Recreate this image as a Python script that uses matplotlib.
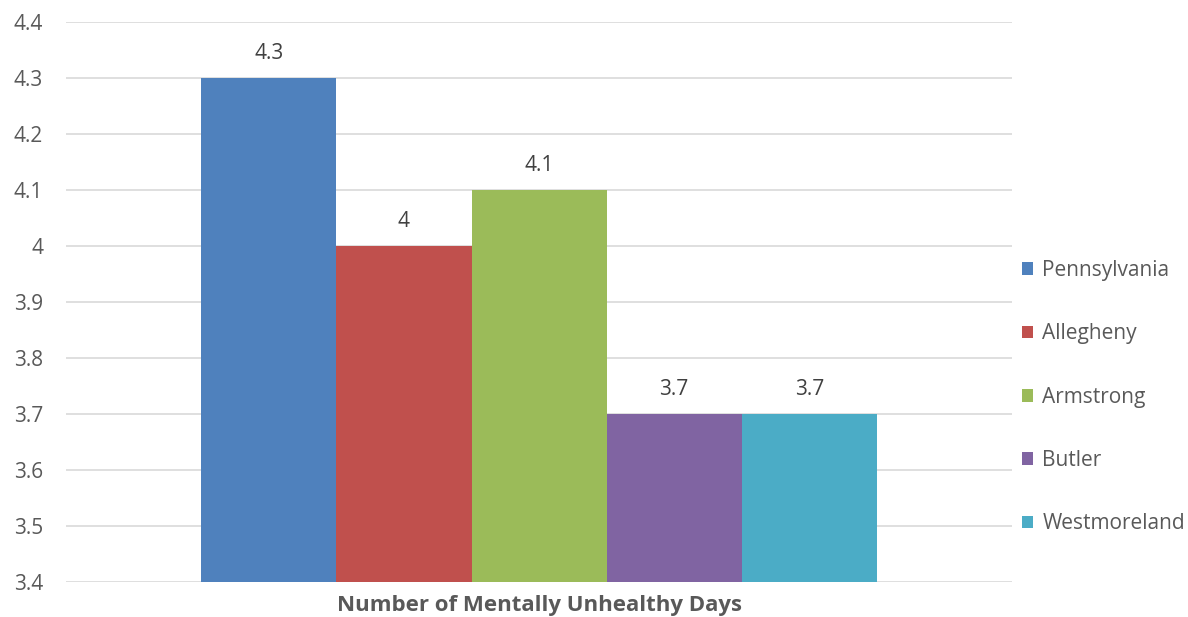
import matplotlib.pyplot as plt
from matplotlib.patches import Patch

counties = ['Pennsylvania', 'Allegheny', 'Armstrong', 'Butler', 'Westmoreland']
days = [4.3, 4.0, 4.1, 3.7, 3.7]
value_labels = ['4.3', '4', '4.1', '3.7', '3.7']
colors = ['#4F81BD', '#C0504D', '#9BBB59', '#8064A2', '#4BACC6']
category = 'Number of Mentally Unhealthy Days'

plt.rcParams['font.family'] = ['Open Sans', 'DejaVu Sans']
txt = '#595959'

fig = plt.figure(figsize=(11.88, 6.17), dpi=100)
ax = fig.add_axes([0.0556, 0.0567, 0.7963, 0.9076])

n = len(counties)
w = 0.714 / n
for i, (c, v, lab, col) in enumerate(zip(counties, days, value_labels, colors)):
    x = (i - (n - 1) / 2) * w
    ax.bar(x, v - 3.4, bottom=3.4, width=w, color=col, zorder=3, label=c)
    ax.annotate(lab, (x, v), xytext=(0, 18), textcoords='offset points',
                ha='center', va='center', fontsize=15, color='#404040')

ax.set_xlim(-0.5, 0.5)
ax.set_ylim(3.4, 4.4)
ax.set_yticks([3.4 + 0.1 * k for k in range(11)])
ax.set_yticklabels(['3.4', '3.5', '3.6', '3.7', '3.8', '3.9', '4', '4.1', '4.2', '4.3', '4.4'])
ax.yaxis.grid(True, color='#D9D9D9', lw=1.2, zorder=0)
ax.set_xticks([])
ax.tick_params(axis='y', length=0, labelsize=15, labelcolor=txt, pad=16.5)
for s in ax.spines.values():
    s.set_visible(False)

ax.set_xlabel(category, fontsize=16, fontweight='bold', color=txt, labelpad=9)

handles = [Patch(facecolor=c, label=l) for c, l in zip(colors, counties)]
leg = ax.legend(handles=handles, loc='center left', bbox_to_anchor=(1.01, 0.33),
                frameon=False, fontsize=15, labelspacing=2.03,
                handlelength=0.55, handleheight=0.55, handletextpad=0.45,
                borderpad=0, borderaxespad=0)
for t in leg.get_texts():
    t.set_color(txt)

fig.savefig('out.png', dpi=100, facecolor='white')
